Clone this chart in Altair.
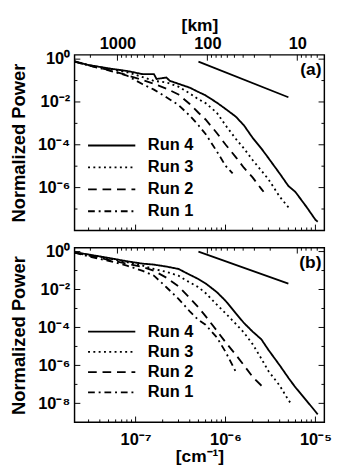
import altair as alt
import pandas as pd
import numpy as np

FONT = "Liberation Sans"

# ---------------- data ----------------
runs = ["Run 4", "Run 3", "Run 2", "Run 1"]

# panel (a)
a_run4_k = [2.1e-8, 3e-8, 5e-8, 8e-8, 1.2e-7, 1.6e-7, 1.71e-7, 2.2e-7, 2.41e-7, 3e-7, 4e-7, 5e-7, 6e-7, 8e-7,
            1e-6, 1.3e-6, 1.6e-6, 2e-6, 2.5e-6, 3e-6, 4e-6, 5e-6, 6e-6, 8e-6, 1e-5, 1.06e-5]
a_run4_p = [0.79, 0.533, 0.371, 0.281, 0.199, 0.199, 0.119, 0.138, 0.0964, 0.0706, 0.0466, 0.0292, 0.0203,
            9.33e-3, 4.75e-3, 2.07e-3, 8.17e-4, 2.12e-4, 6.78e-5, 2.40e-5, 4.56e-6, 1.19e-6, 6.2e-7,
            1.21e-7, 3.14e-8, 2.55e-8]
a_run3_k = [2.1e-8, 3e-8, 5e-8, 8e-8, 1.2e-7, 1.6e-7, 2.2e-7, 3e-7, 4e-7, 5e-7, 6e-7, 8e-7, 1e-6, 1.3e-6,
            1.6e-6, 2e-6, 2.5e-6, 3e-6, 4e-6, 5e-6, 5.28e-6]
a_run3_p = [0.79, 0.522, 0.352, 0.245, 0.146, 0.0964, 0.0824, 0.0518, 0.025, 0.0134, 8.87e-3, 3.15e-3,
            8.17e-4, 1.91e-4, 6.78e-5, 1.95e-5, 6.24e-6, 2.45e-6, 3.78e-7, 1.21e-7, 9.84e-8]
a_run2_k = [2.1e-8, 3e-8, 5e-8, 8e-8, 1.2e-7, 1.6e-7, 2.2e-7, 3e-7, 4e-7, 5e-7, 6e-7, 8e-7, 1e-6, 1.3e-6,
            1.6e-6, 2e-6, 2.5e-6, 2.65e-6]
a_run2_p = [0.767, 0.507, 0.318, 0.179, 0.107, 0.0706, 0.042, 0.0225, 8.0e-3, 3.14e-3, 1.52e-3, 3.56e-4,
            1.03e-4, 2.66e-5, 8.51e-6, 3.01e-6, 8.69e-7, 6.37e-7]
a_run1_k = [2.1e-8, 3e-8, 5e-8, 8e-8, 1.2e-7, 1.6e-7, 2.2e-7, 3e-7, 4e-7, 5e-7, 6e-7, 8e-7, 1e-6, 1.2e-6]
a_run1_p = [0.767, 0.507, 0.301, 0.171, 0.067, 0.0378, 0.0165, 7.21e-3, 2.30e-3, 8.17e-4, 3.21e-4,
            4.95e-5, 1.05e-5, 4.56e-6]

# panel (b)
b_run4_k = [2.1e-8, 3e-8, 5e-8, 8e-8, 1.2e-7, 1.6e-7, 2.2e-7, 3e-7, 4e-7, 5e-7, 6e-7, 8e-7, 1e-6, 1.3e-6,
            1.6e-6, 2e-6, 2.5e-6, 3e-6, 4e-6, 5e-6, 6e-6, 8e-6, 1e-5, 1.06e-5]
b_run4_p = [0.914, 0.700, 0.465, 0.308, 0.230, 0.205, 0.162, 0.121, 0.0601, 0.0355, 0.021, 7.33e-3,
            2.56e-3, 5.60e-4, 1.74e-4, 6.08e-5, 2.39e-5, 6.59e-6, 1.02e-6, 2.22e-7, 6.92e-8, 1.35e-8,
            3.72e-9, 2.62e-9]
b_run3_k = [2.1e-8, 3e-8, 5e-8, 8e-8, 1.2e-7, 1.6e-7, 2.2e-7, 3e-7, 4e-7, 5e-7, 6e-7, 8e-7, 1e-6, 1.3e-6,
            1.6e-6, 2e-6, 2.5e-6, 3e-6, 4e-6, 5e-6, 5.28e-6]
b_run3_p = [0.914, 0.659, 0.439, 0.275, 0.182, 0.121, 0.0853, 0.0535, 0.0236, 0.0132, 6.52e-3, 1.60e-3,
            5.60e-4, 1.55e-4, 5.41e-5, 1.33e-5, 2.31e-6, 5.05e-7, 8.73e-8, 1.51e-8, 1.06e-8]
b_run2_k = [2.1e-8, 3e-8, 5e-8, 8e-8, 1.2e-7, 1.6e-7, 2.2e-7, 3e-7, 4e-7, 5e-7, 6e-7, 8e-7, 1e-6, 1.3e-6,
            1.6e-6, 2e-6, 2.5e-6, 2.72e-6]
b_run2_p = [0.883, 0.622, 0.367, 0.230, 0.153, 0.096, 0.0423, 0.0148, 3.63e-3, 1.13e-3, 3.94e-4, 6.84e-5,
            1.68e-5, 3.67e-6, 1.02e-6, 2.50e-7, 8.73e-8, 6.15e-8]
b_run1_k = [2.1e-8, 3e-8, 5e-8, 8e-8, 1.2e-7, 1.6e-7, 2.2e-7, 3e-7, 4e-7, 5e-7, 6e-7, 8e-7, 1e-6, 1.29e-6]
b_run1_p = [0.883, 0.553, 0.327, 0.182, 0.096, 0.0535, 0.0132, 3.24e-3, 7.08e-4, 2.47e-4, 1.38e-4,
            3.01e-5, 5.22e-6, 5.05e-7]

# -5/3 reference segments
ref_k = [5e-7, 5e-6]
ref_a_p = [0.77, 0.0165]
ref_b_p = [0.99, 0.0203]

# axis tick values / labels
x_domain = [2 * np.pi / (3000 * 1e5), 2 * np.pi / (5 * 1e5)]   # 3000 km .. 5 km
cm_major = [1e-7, 1e-6, 1e-5]
cm_minor = [m * 10.0 ** e for e in (-8, -7, -6, -5) for m in range(2, 10)]
km_major = [1000, 100, 10]
km_minor = [2000, 900, 800, 700, 600, 500, 400, 300, 200, 90, 80, 70, 60, 50, 40, 30, 20, 9, 8, 7, 6]
sup = {0: "⁰", -1: "⁻¹", -2: "⁻²", -3: "⁻³", -4: "⁻⁴", -5: "⁻⁵", -6: "⁻⁶", -7: "⁻⁷", -8: "⁻⁸", -9: "⁻⁹"}

# ---------------- helpers ----------------
W = 259
YTOP = 10 ** 0.2


def exp_label_expr(exps):
    expr = "''"
    for e in exps:
        expr = f"(round(log(datum.value)/LN10) == {e} ? '10{sup[e]}' : {expr})"
    return expr


def to_df(parts):
    rows = []
    for run, ks, ps in parts:
        for k, p in zip(ks, ps):
            rows.append({"run": run, "k": float(k), "p": float(p)})
    return pd.DataFrame(rows)


def panel(parts, ref_p, ymin, ylabel_exps, tag, H, top_axis, legend_y, row_pad):
    xs = alt.Scale(type="log", domain=[float(v) for v in x_domain], nice=False)
    ys = alt.Scale(type="log", domain=[ymin, YTOP], nice=False)
    df = to_df(parts)
    ylabels = [10.0 ** e for e in ylabel_exps]

    km_major_k = [float(2 * np.pi / (v * 1e5)) for v in km_major]
    km_minor_k = [float(2 * np.pi / (v * 1e5)) for v in km_minor]
    cm_minor_in = [float(v) for v in cm_minor if x_domain[0] < v < x_domain[1]]

    if top_axis:
        xaxis = alt.Axis(orient="top", values=km_major_k,
                         labelExpr="format(2*PI/datum.value/1e5, '.0f')",
                         ticks=False, domain=False, grid=False, title="[km]",
                         labelFontSize=17, titleFontSize=18, labelPadding=3, titlePadding=0)
    else:
        xaxis = alt.Axis(orient="bottom", values=cm_major, labelExpr=exp_label_expr([-7, -6, -5]),
                         ticks=False, domain=False, grid=False, title="[cm⁻¹]",
                         labelFontSize=17, titleFontSize=18, labelPadding=10, titlePadding=1)
    yaxis = alt.Axis(orient="left", values=ylabels, labelExpr=exp_label_expr(ylabel_exps),
                     ticks=False, domain=False, grid=False, title="Normalized Power",
                     labelFontSize=17, titleFontSize=19, labelPadding=5, titlePadding=10)

    X = lambda: alt.X("k:Q", scale=xs, axis=xaxis)
    Y = lambda: alt.Y("p:Q", scale=ys, axis=yaxis)

    lines = alt.Chart(df).mark_line(color="black", strokeWidth=1.9, clip=True).encode(
        x=X(), y=Y(),
        strokeDash=alt.StrokeDash(
            "run:N",
            scale=alt.Scale(domain=runs, range=[[1, 0], [2, 3.5], [9, 6], [7, 4, 2, 4]]),
            legend=alt.Legend(orient="none", legendX=13, legendY=legend_y, title=None,
                              symbolType="stroke", symbolSize=2400, symbolStrokeWidth=1.9,
                              symbolStrokeColor="black", clipHeight=20, rowPadding=row_pad,
                              labelOffset=12, labelFont=FONT, labelFontSize=17,
                              labelFontWeight="bold", labelColor="black", padding=0),
        ),
        order="k:Q",
    )

    ref = alt.Chart(pd.DataFrame({"k": ref_k, "p": ref_p})).mark_line(
        color="black", strokeWidth=1.8).encode(x=X(), y=Y())

    def xrule(vals, y0, y1):
        return alt.Chart(pd.DataFrame({"k": vals})).mark_rule(color="black", strokeWidth=1).encode(
            x=X(), y=alt.value(y0), y2=alt.value(y1))

    def yrule(vals, x0, x1):
        return alt.Chart(pd.DataFrame({"p": vals})).mark_rule(color="black", strokeWidth=1).encode(
            y=Y(), x=alt.value(x0), x2=alt.value(x1))

    yd = [10.0 ** e for e in range(int(round(np.log10(ymin))) + 1, 1)]
    yd_major = [v for v in yd if int(round(np.log10(v))) % 2 == 0]
    yd_minor = [v for v in yd if int(round(np.log10(v))) % 2 != 0]

    tagc = alt.Chart(pd.DataFrame({"t": [tag]})).mark_text(
        font=FONT, fontSize=18, fontWeight="bold", align="right", baseline="middle",
        color="black").encode(text="t:N", x=alt.value(W - 3), y=alt.value(16))

    layers = [
        lines,
        ref,
        xrule(km_major_k, 0, 6),
        xrule(km_minor_k, 0, 3),
        xrule(cm_major, H, H - 6),
        xrule(cm_minor_in, H, H - 3),
        yrule(yd_major, 0, 6), yrule(yd_minor, 0, 3),
        yrule(yd_major, W, W - 6), yrule(yd_minor, W, W - 3),
        tagc,
    ]
    return alt.layer(*layers).properties(width=W, height=H)


pa = panel([("Run 4", a_run4_k, a_run4_p), ("Run 3", a_run3_k, a_run3_p),
            ("Run 2", a_run2_k, a_run2_p), ("Run 1", a_run1_k, a_run1_p)],
           ref_a_p, 1e-8, [0, -2, -4, -6], "(a)", 182, True, 84, 2.7)
pb = panel([("Run 4", b_run4_k, b_run4_p), ("Run 3", b_run3_k, b_run3_p),
            ("Run 2", b_run2_k, b_run2_p), ("Run 1", b_run1_k, b_run1_p)],
           ref_b_p, 1e-9, [0, -2, -4, -6, -8], "(b)", 181, False, 77, 1.0)

chart = alt.vconcat(pa, pb, spacing=10).resolve_scale(strokeDash="independent").resolve_legend(
    strokeDash="independent").properties(
    padding={"left": 0, "top": 0, "right": 2, "bottom": 0}, background="white"
).configure_view(stroke="black", strokeWidth=1.5).configure_axis(
    labelFont=FONT, titleFont=FONT, labelFontWeight="bold", titleFontWeight="bold",
    labelColor="black", titleColor="black")

chart.save("out.html", embed_options={"renderer": "svg", "actions": False})
